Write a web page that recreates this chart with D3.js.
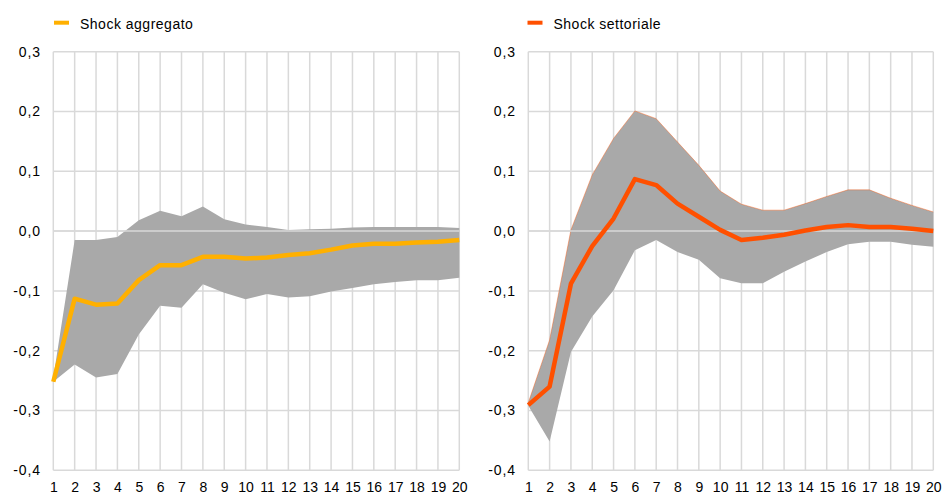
<!DOCTYPE html>
<html><head><meta charset="utf-8">
<script src="https://cdn.jsdelivr.net/npm/d3@7"></script>
<style>
html,body{margin:0;padding:0;background:#fff;}
svg{display:block;font-family:"Liberation Sans",Arial,sans-serif;}
</style></head>
<body><svg id="c" width="943" height="498"></svg>
<script>
const periods = d3.range(1, 21);
const yTicks = [-0.4, -0.3, -0.2, -0.1, 0.0, 0.1, 0.2, 0.3];

const aggName = "Shock aggregato";
const aggMid = [-0.252,-0.113,-0.123,-0.121,-0.082,-0.057,-0.057,-0.043,-0.043,-0.046,-0.044,-0.040,-0.037,-0.031,-0.024,-0.021,-0.021,-0.019,-0.018,-0.015];
const aggUp  = [-0.245,-0.015,-0.015,-0.010,0.018,0.034,0.025,0.041,0.020,0.011,0.007,0.002,0.003,0.004,0.006,0.007,0.007,0.007,0.007,0.005];
const aggLo  = [-0.252,-0.223,-0.245,-0.239,-0.173,-0.125,-0.128,-0.089,-0.103,-0.114,-0.105,-0.111,-0.109,-0.101,-0.095,-0.089,-0.085,-0.082,-0.082,-0.078];

const secName = "Shock settoriale";
const secMid = [-0.291,-0.260,-0.088,-0.025,0.021,0.087,0.077,0.046,0.024,0.002,-0.015,-0.011,-0.006,0.001,0.007,0.010,0.007,0.007,0.004,0.000];
const secUp  = [-0.287,-0.182,0.002,0.094,0.155,0.201,0.188,0.149,0.110,0.067,0.045,0.035,0.035,0.046,0.058,0.069,0.069,0.055,0.043,0.032];
const secLo  = [-0.292,-0.352,-0.202,-0.143,-0.099,-0.032,-0.015,-0.035,-0.048,-0.079,-0.087,-0.087,-0.068,-0.051,-0.035,-0.022,-0.018,-0.018,-0.023,-0.026];

const svg = d3.select("#c");
const fmt = v => d3.format(".1f")(v).replace(".", ",").replace("−","-");

function panel(cfg){
  const x = d3.scalePoint().domain(periods).range([cfg.x0, cfg.x1]);
  const y = d3.scaleLinear().domain([-0.4, 0.3]).range([470.3, 51.7]);
  const g = svg.append("g");
  // grid
  g.append("g").selectAll("line.h").data(yTicks).join("line")
    .attr("x1", cfg.x0).attr("x2", cfg.x1)
    .attr("y1", d => y(d)).attr("y2", d => y(d))
    .attr("stroke", "#D9D9D9").attr("stroke-width", 1.5);
  g.append("g").selectAll("line.v").data(periods).join("line")
    .attr("x1", d => x(d)).attr("x2", d => x(d))
    .attr("y1", y(0.3)).attr("y2", y(-0.4))
    .attr("stroke", "#D9D9D9").attr("stroke-width", 1.5);
  // band
  const data = periods.map((p, i) => ({p, lo: cfg.lo[i], up: cfg.up[i], mid: cfg.mid[i]}));
  g.append("path").datum(data)
    .attr("d", d3.area().x(d => x(d.p)).y0(d => y(d.lo)).y1(d => y(d.up)))
    .attr("fill", "#A9A9A9");
  if (cfg.edge) {
    g.append("path").datum(data)
      .attr("d", d3.line().x(d => x(d.p)).y(d => y(d.up)))
      .attr("fill", "none").attr("stroke", cfg.color).attr("stroke-opacity", 0.5).attr("stroke-width", 0.8);
  }
  // zero axis line
  g.append("line").attr("x1", cfg.x0).attr("x2", cfg.x1)
    .attr("y1", y(0)).attr("y2", y(0))
    .attr("stroke", "#D9D9D9").attr("stroke-width", 1.5);
  // main line
  g.append("path").datum(data)
    .attr("d", d3.line().x(d => x(d.p)).y(d => y(d.mid)))
    .attr("fill", "none").attr("stroke", cfg.color).attr("stroke-width", 4.5)
    .attr("stroke-linejoin", "round");
  // y axis labels
  const ya = d3.axisLeft(y).tickValues(yTicks).tickSize(0).tickPadding(0).tickFormat(fmt);
  const yg = g.append("g").attr("transform", `translate(${cfg.yLab},0)`).call(ya);
  yg.select(".domain").remove();
  yg.selectAll("text").attr("font-size", 14).attr("fill", "#000")
    .attr("letter-spacing", 0.9).attr("font-family", '"Liberation Sans",Arial,sans-serif');
  // x axis labels
  const xa = d3.axisBottom(x).tickSize(0).tickPadding(0);
  const xg = g.append("g").attr("transform", `translate(0,482)`).call(xa);
  xg.select(".domain").remove();
  xg.selectAll("text").attr("font-size", 14).attr("fill", "#000")
    .attr("font-family", '"Liberation Sans",Arial,sans-serif');
  // legend
  g.append("line").attr("x1", cfg.lx).attr("x2", cfg.lx + 15)
    .attr("y1", 22.7).attr("y2", 22.7)
    .attr("stroke", cfg.color).attr("stroke-width", 4);
  g.append("text").attr("x", cfg.lx + 26).attr("y", 29)
    .attr("font-size", 14).attr("letter-spacing", 0.5).attr("fill", "#000")
    .text(cfg.name);
}

panel({x0: 53.3, x1: 459.3, yLab: 41, lx: 54, color: "#FFB000", name: aggName, mid: aggMid, up: aggUp, lo: aggLo, edge: false});
panel({x0: 528.3, x1: 933.3, yLab: 516, lx: 527.5, color: "#FF5000", name: secName, mid: secMid, up: secUp, lo: secLo, edge: true});
</script></body></html>
